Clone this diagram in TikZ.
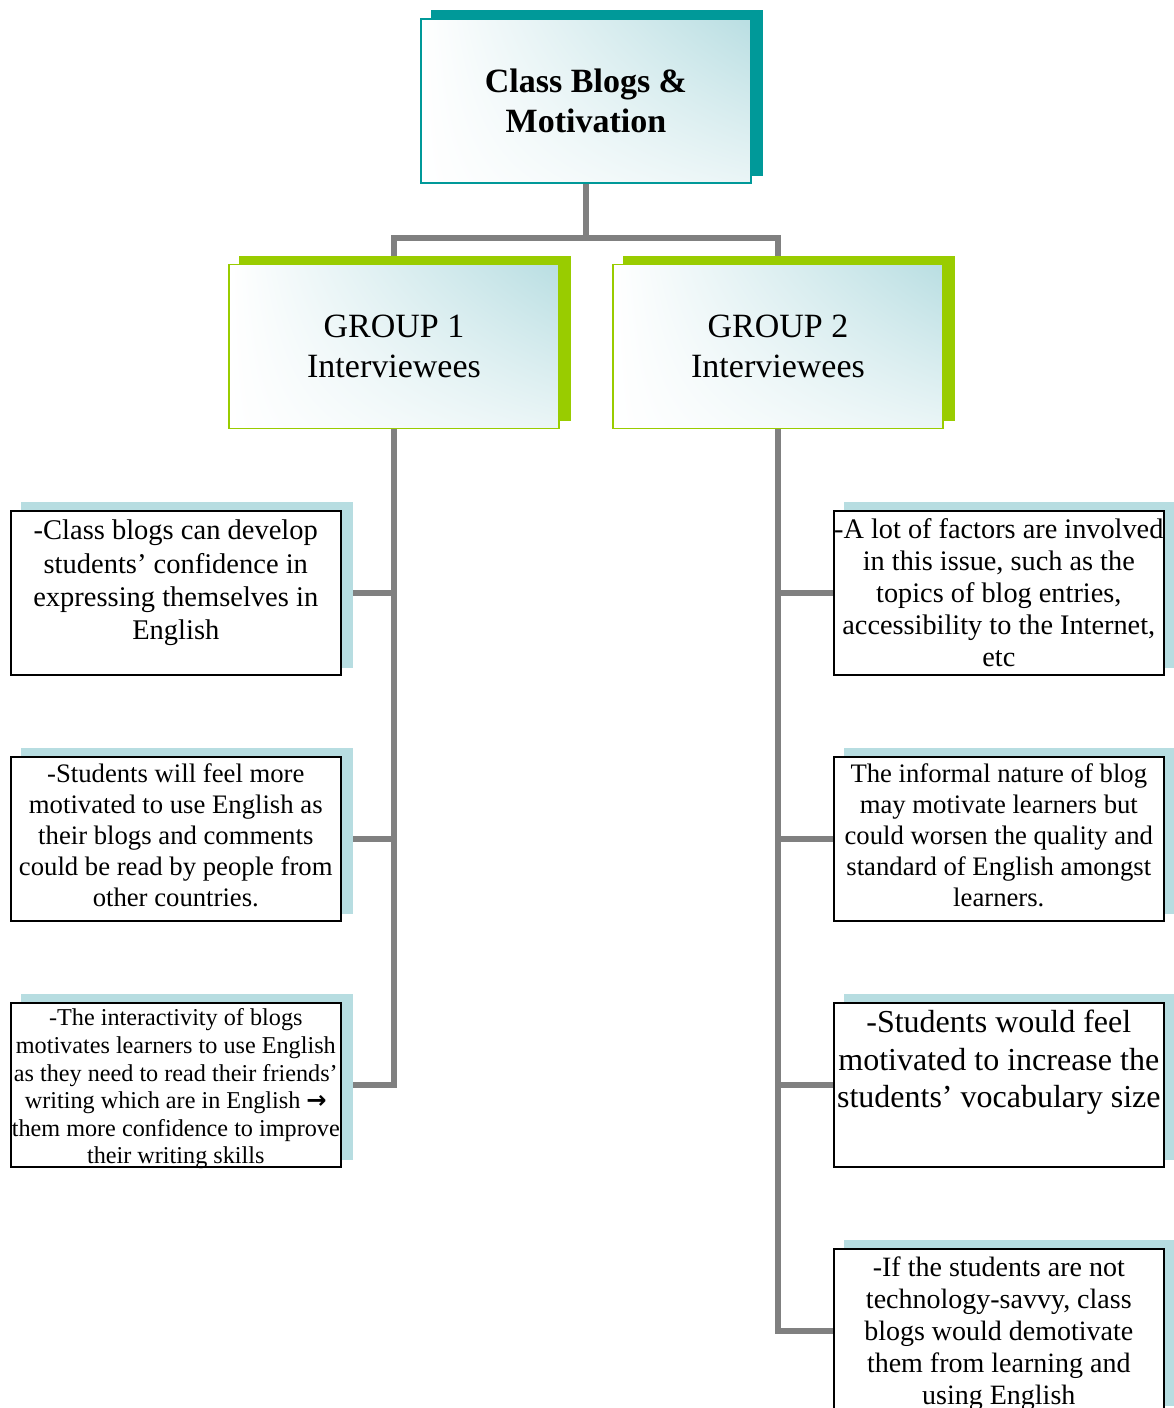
\documentclass[tikz,border=0pt]{standalone}
\usepackage{fontspec}
\setmainfont{Liberation Serif}
\newfontfamily\arrowfont{DejaVu Sans}
\usetikzlibrary{calc,shadings}

\definecolor{hdteal}{HTML}{009999}
\definecolor{grpgreen}{HTML}{99CC00}
\definecolor{cardshadow}{HTML}{B7DDE1}
\definecolor{glow}{HTML}{B9DEE2}
\definecolor{linkgray}{HTML}{808080}

\pgfdeclarelayer{links}
\pgfdeclarelayer{shadows}
\pgfsetlayers{links,shadows,main}

% body of a leaf card: size, baselineskip, depth of first baseline, lines
\newcommand\cardtext[4]{\parbox[c][164pt][t]{330pt}{\centering
  \fontsize{#1}{#2}\selectfont\rule{0pt}{#3}#4\par}}

\begin{document}
\begin{tikzpicture}[x=1pt,y=-1pt,
  panel/.style={shade, upper left=white, lower left=white,
    upper right=glow, lower right=glow!30!white,
    minimum width=330pt, minimum height=164pt, inner sep=0pt,
    align=center, line width=1.6pt},
  headbox/.style={panel, draw=hdteal, font=\fontsize{34}{40}\selectfont\bfseries},
  groupbox/.style={panel, draw=grpgreen, font=\fontsize{34}{40}\selectfont},
  leaf/.style={draw=black, line width=1.6pt, fill=white, inner sep=0pt,
    minimum width=330pt, minimum height=164pt, anchor=north west},
  link/.style={draw=linkgray, line width=5.5pt}]
\useasboundingbox (0,0) rectangle (1174,1408);

% title and the two groups
\node[headbox] (top) at (586,101) {Class Blogs \&\\Motivation};
\node[groupbox] (g1) at (394,346.5) {GROUP 1\\Interviewees};
\node[groupbox] (g2) at (778,346.5) {GROUP 2\\Interviewees};

% group 1 statements
\node[leaf] (l1) at (10,510) {\cardtext{28.5}{33.3}{29pt}{%
  -Class blogs can develop\\students’ confidence in\\expressing themselves in\\English}};
\node[leaf] (l2) at (10,756) {\cardtext{26.7}{31}{26pt}{%
  -Students will feel more\\motivated to use English as\\their blogs and comments\\could be read by people from\\other countries.}};
\node[leaf] (l3) at (10,1002) {\cardtext{24.2}{27.6}{23pt}{%
  -The interactivity of blogs\\motivates learners to use English\\as they need to read their friends’\\writing which are in English {\arrowfont\bfseries →}\\them more confidence to improve\\their writing skills}};

% group 2 statements
\node[leaf] (r1) at (833,510) {\cardtext{28.3}{32}{28pt}{%
  -A lot of factors are involved\\in this issue, such as the\\topics of blog entries,\\accessibility to the Internet,\\etc}};
\node[leaf] (r2) at (833,756) {\cardtext{26.7}{31}{26pt}{%
  The informal nature of blog\\may motivate learners but\\could worsen the quality and\\standard of English amongst\\learners.}};
\node[leaf] (r3) at (833,1002) {\cardtext{32}{37.5}{30pt}{%
  -Students would feel\\motivated to increase the\\students’ vocabulary size}};
\node[leaf] (r4) at (833,1248) {\cardtext{28}{32}{28pt}{%
  -If the students are not\\technology-savvy, class\\blogs would demotivate\\them from learning and\\using English}};

% offset shadows behind every box
\begin{pgfonlayer}{shadows}
  \fill[hdteal] ($(top.south west)+(11,-8)$) rectangle ($(top.north east)+(11,-8)$);
  \foreach \g in {g1,g2}
    \fill[grpgreen] ($(\g.south west)+(11,-8)$) rectangle ($(\g.north east)+(11,-8)$);
  \foreach \c in {l1,l2,l3,r1,r2,r3,r4}
    \fill[cardshadow] ($(\c.south west)+(11,-8)$) rectangle ($(\c.north east)+(11,-8)$);
\end{pgfonlayer}

% connectors
\begin{pgfonlayer}{links}
  \coordinate (hub) at (586,238);
  \draw[link] (top.south) -- (hub);
  \draw[link] (g1.north) |- (hub) -| (g2.north);
  \draw[link] (g1.south) |- (l3.east);
  \draw[link] (l1.east) -- (l1.east -| g1.south);
  \draw[link] (l2.east) -- (l2.east -| g1.south);
  \draw[link] (g2.south) |- (r4.west);
  \draw[link] (r1.west) -- (r1.west -| g2.south);
  \draw[link] (r2.west) -- (r2.west -| g2.south);
  \draw[link] (r3.west) -- (r3.west -| g2.south);
\end{pgfonlayer}
\end{tikzpicture}
\end{document}
